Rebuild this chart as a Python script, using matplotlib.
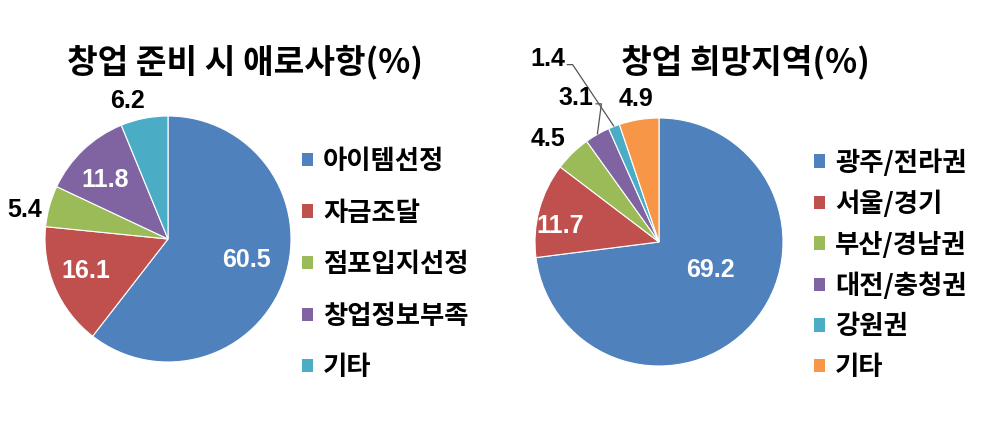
import matplotlib
matplotlib.use("Agg")
import matplotlib.pyplot as plt
from matplotlib.patches import Patch
import numpy as np

# ---- data ----
left_title = "창업 준비 시 애로사항(%)"
left_labels = ["아이템선정", "자금조달", "점포입지선정", "창업정보부족", "기타"]
left_values = [60.5, 16.1, 5.4, 11.8, 6.2]

right_title = "창업 희망지역(%)"
right_labels = ["광주/전라권", "서울/경기", "부산/경남권", "대전/충청권", "강원권", "기타"]
right_values = [69.2, 11.7, 4.5, 3.1, 1.4, 4.9]

# ---- style ----
left_colors = ["#4F81BD", "#C0504D", "#9BBB59", "#8064A2", "#4BACC6"]
right_colors = ["#4F81BD", "#C0504D", "#9BBB59", "#8064A2", "#4BACC6", "#F79646"]
KR = ["Noto Sans CJK KR", "DejaVu Sans"]
NUM = ["Liberation Sans", "DejaVu Sans"]

W, H = 988, 421
fig = plt.figure(figsize=(W / 100, H / 100), dpi=100)
fig.patch.set_facecolor("white")
ax = fig.add_axes([0, 0, 1, 1])


def draw_pie(values, colors, center, radius, dists, shifts, txtcolors, leaders):
    wedges, _ = ax.pie(values, colors=colors, startangle=90, counterclock=False,
                       center=center, radius=radius,
                       wedgeprops=dict(edgecolor="white", linewidth=0.8))
    for i, (w, v) in enumerate(zip(wedges, values)):
        mid = np.deg2rad((w.theta1 + w.theta2) / 2.0)
        ang = mid + np.deg2rad(shifts[i])
        lx = center[0] + dists[i] * radius * np.cos(ang)
        ly = center[1] + dists[i] * radius * np.sin(ang)
        ax.text(lx, ly, f"{v:.1f}", ha="center", va="center", fontsize=18,
                fontweight="bold", color=txtcolors[i], family=NUM)
        if leaders[i]:
            ex = center[0] + radius * np.cos(mid)
            ey = center[1] + radius * np.sin(mid)
            ax.plot([lx + 19, lx + 25, ex], [ly - 6, ly - 6, ey],
                    color="#555555", lw=0.9, solid_capstyle="butt")
    return wedges


# left pie
lw = draw_pie(left_values, left_colors, (168, 182), 123,
              dists=[0.66, 0.72, 1.19, 0.70, 1.17],
              shifts=[4, -2, 4, 3, 5],
              txtcolors=["white", "white", "black", "white", "black"],
              leaders=[False] * 5)

# right pie
rw = draw_pie(right_values, right_colors, (659, 179), 124,
              dists=[0.47, 0.81, 1.22, 1.34, 1.73, 1.17],
              shifts=[13, 6, 3, 0, 10, 0],
              txtcolors=["white", "white", "black", "black", "black", "black"],
              leaders=[False, False, False, True, True, False])

ax.set_xlim(0, W)
ax.set_ylim(0, H)
ax.set_aspect("equal")
ax.axis("off")

ax.text(245, 359, left_title, ha="center", va="center", fontsize=24,
        fontweight="heavy", family=KR)
ax.text(745, 359, right_title, ha="center", va="center", fontsize=24,
        fontweight="heavy", family=KR)

leg_font = dict(family=KR, weight="heavy", size=19)
h1 = [Patch(facecolor=c, edgecolor="none") for c in left_colors]
h2 = [Patch(facecolor=c, edgecolor="none") for c in right_colors]
leg1 = ax.legend(h1, left_labels, loc="upper left", bbox_to_anchor=(302 / W, 1 - 148 / H),
                 frameon=False, prop=leg_font, handlelength=0.4, handleheight=0.4,
                 handletextpad=0.4, labelspacing=0.93, borderaxespad=0, borderpad=0)
ax.add_artist(leg1)
leg2 = ax.legend(h2, right_labels, loc="upper left", bbox_to_anchor=(814 / W, 1 - 149 / H),
                 frameon=False, prop=leg_font, handlelength=0.4, handleheight=0.4,
                 handletextpad=0.4, labelspacing=0.52, borderaxespad=0, borderpad=0)

fig.savefig("out.png", dpi=100, facecolor="white")
